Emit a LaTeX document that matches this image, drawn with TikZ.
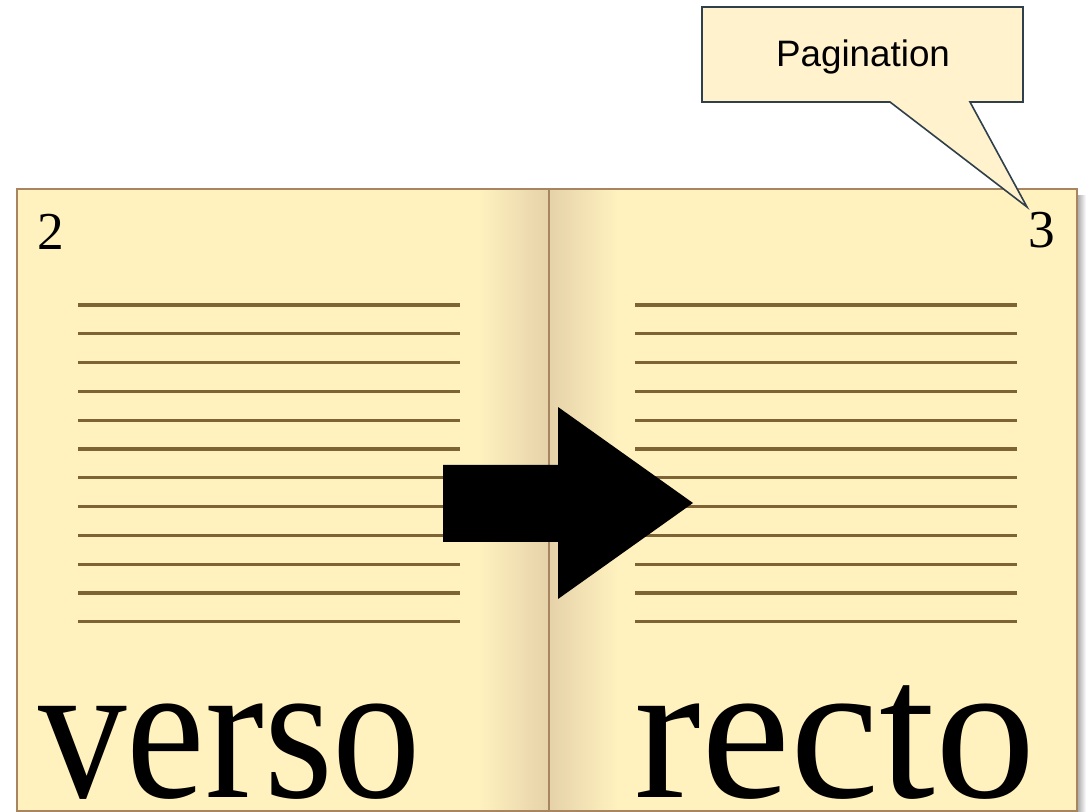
\documentclass[tikz,border=0pt]{standalone}
\usepackage{fontspec}
\setmainfont{Liberation Serif}
\setsansfont{Liberation Sans}
\usepackage{xcolor}

\definecolor{pagefill}{HTML}{FFF2BF}
\definecolor{spinetan}{HTML}{E6D2A9}
\definecolor{bookedge}{HTML}{A68560}
\definecolor{ruleline}{HTML}{7E6434}
\definecolor{notefill}{HTML}{FFF2CC}
\definecolor{noteedge}{HTML}{2F3F4C}

\tikzset{
  pagenum/.style={inner sep=0pt, font=\fontsize{40}{40}\selectfont},
  bigword/.style={inner sep=0pt, font=\fontsize{149}{149}\selectfont},
  textline/.style={ruleline, line width=2.3pt},
  callout/.style={fill=notefill, draw=noteedge, line width=1.2pt, line join=miter}
}

\begin{document}
\begin{tikzpicture}[x=0.75pt, y=-0.75pt]

\useasboundingbox (0,0) rectangle (1086,812);

% Shadow right of the book
\shade[left color=black!35, right color=white] (1077,196) rectangle (1086,812);

% Pages
\fill[pagefill] (17,189) rectangle (1077,812);
\shade[left color=pagefill, right color=spinetan] (478,189) rectangle (549,812);
\shade[left color=spinetan, right color=pagefill] (549,189) rectangle (618,812);
\draw[bookedge, line width=1.8pt] (17,812) -- (17,189) -- (1077,189) -- (1077,812);
\draw[bookedge, line width=1.8pt] (17,811) -- (1077,811);
\coordinate (spinetop) at (549,189);
\coordinate (spinebot) at (549,812);
\draw[bookedge, line width=1.8pt] (spinetop) -- (spinebot);

% Page numbers
\node[pagenum, anchor=base west] (num2) at (37,250) {2};
\node[pagenum, anchor=base east] (num3) at (1055,248) {3};

% Lines of text
\foreach \k in {0,...,11} {
  \draw[textline] (78,305+28.8*\k) -- (460,305+28.8*\k);
  \draw[textline] (635,305+28.8*\k) -- (1017,305+28.8*\k);
}

% Turning arrow
\fill[black] (443,465) -- (558,465) -- (558,407) -- (693,503)
  -- (558,599) -- (558,542) -- (443,542) -- cycle;

% Words
\node[bigword, anchor=base west, xscale=0.89] (verso) at (38,797) {verso};
\node[bigword, anchor=base west, xscale=1.01] (recto) at (634,797) {recto};

% Callout
\coordinate (tip) at (1027,207);
\draw[callout] (702,7) -- (1023,7) -- (1023,102) -- (970,102) -- (tip)
  -- (890,102) -- (702,102) -- cycle;
\node[font=\sffamily\fontsize{27.6}{28}\selectfont, inner sep=0pt] (pag) at (863,57) {Pagination};

\end{tikzpicture}
\end{document}
